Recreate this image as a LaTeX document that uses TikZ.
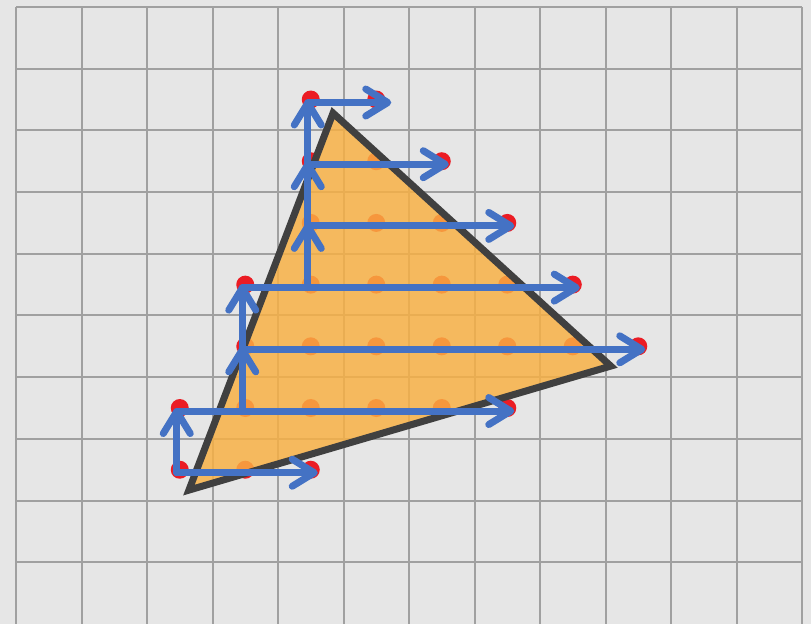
\documentclass[tikz,border=0pt]{standalone}
\usepackage{tikz}
\usetikzlibrary{arrows.meta}

\definecolor{paper}{HTML}{E6E6E6}
\definecolor{gridline}{HTML}{A0A0A0}
\definecolor{edgegray}{HTML}{404040}
\definecolor{tripfill}{RGB}{249,176,67}
\definecolor{samplered}{RGB}{235,28,36}
\definecolor{scanblue}{HTML}{4472C4}

\begin{document}
\begin{tikzpicture}[x=65.5pt, y=61.7pt,
  gridln/.style={draw=gridline, line width=2pt},
  tri/.style={draw=edgegray, line width=7pt, fill=tripfill, fill opacity=0.83, line join=miter},
  dot/.style={circle, fill=samplered, inner sep=0pt, minimum size=18pt},
  scan/.style={draw=scanblue, line width=7pt, line cap=round,
    -{Straight Barb[length=22pt, width=27pt, round]}}
]
\fill[paper] (-0.2443,0) rectangle (12.137,10.113);
\useasboundingbox (-0.2443,0) rectangle (12.137,10.113);

% grid
\foreach \x in {0,...,12}
  \draw[gridln] (\x,0) -- (\x,10);
\foreach \y in {1,...,10}
  \draw[gridln] (0,\y) -- (12,\y);

% sample points, row / first / last
\foreach \j/\s/\e in {2/2/4, 3/2/7, 4/3/9, 5/3/8, 6/4/7, 7/4/6, 8/4/5}
  \foreach \i in {\s,...,\e}
    \node[dot] (d-\i-\j) at (\i+0.5,\j+0.5) {};

% triangle
\coordinate (ta) at (4.84,8.28);
\coordinate (tb) at (9.08,4.18);
\coordinate (tc) at (2.64,2.17);
\draw[tri] (ta) -- (tb) -- (tc) -- cycle;

% scan lines
\begin{scope}[transform canvas={xshift=-3pt, yshift=-3pt}]
\foreach \j/\s/\e in {2/2/4, 3/2/7, 4/3/9, 5/3/8, 6/4/7, 7/4/6}
  \draw[scan, shorten >=-10pt] (d-\s-\j.center) -- (d-\e-\j.center);
\draw[scan, shorten >=-18pt] (d-4-8.center) -- (d-5-8.center);
\foreach \i/\a/\b in {2/2/3, 3/3/4, 3/4/5, 4/5/6, 4/6/7, 4/7/8}
  \draw[scan, shorten >=-3pt] (d-\i-\a.center) -- (d-\i-\b.center);
\end{scope}
\end{tikzpicture}
\end{document}
